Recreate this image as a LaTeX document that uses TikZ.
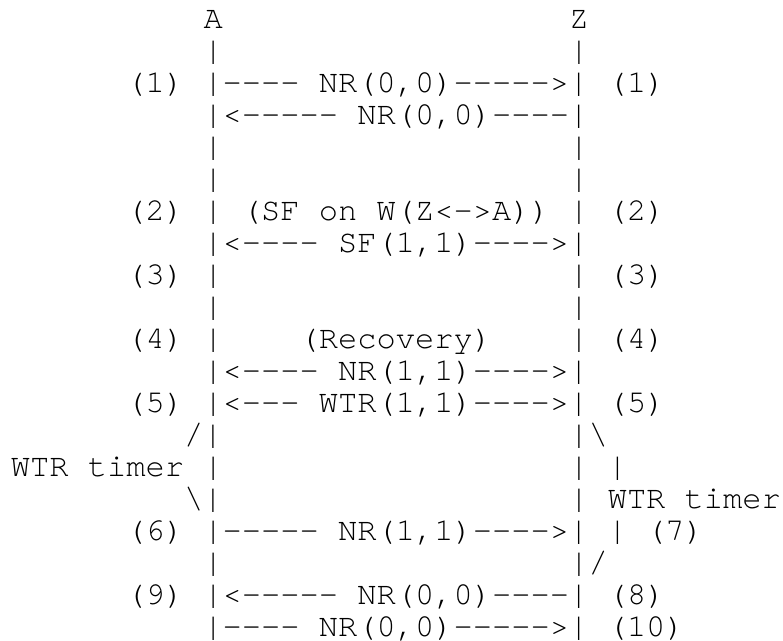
\documentclass[tikz,border=0pt]{standalone}
\usepackage{fontspec}
\setmonofont{TeX Gyre Cursor}
\tikzset{
  txt/.style={inner sep=0pt, outer sep=0pt, anchor=base west,
    font=\ttfamily\fontsize{16.04pt}{16pt}\selectfont, text=black}
}
\begin{document}
\begin{tikzpicture}[x=9.625pt,y=-16pt]
\useasboundingbox (-5.5pt,14.25pt) rectangle (386pt,-306.25pt);
% row 1
\node[txt] (A) at (10,0) {A};
\node[txt] (Z) at (29,0) {Z};
% row 2
\node[txt] (a2) at (10,1) {|};
\node[txt] (z2) at (29,1) {|};
% row 3
\node[txt] (l3) at (6,2) {(1)};
\node[txt] (m3) at (10,2) {|---- NR(0,0)----->|};
\node[txt] (r3) at (31,2) {(1)};
% row 4
\node[txt] (m4) at (10,3) {|<----- NR(0,0)----|};
% rows 5,6
\node[txt] (a5) at (10,4) {|};
\node[txt] (z5) at (29,4) {|};
\node[txt] (a6) at (10,5) {|};
\node[txt] (z6) at (29,5) {|};
% row 7
\node[txt] (l7) at (6,6) {(2)};
\node[txt] (a7) at (10,6) {|};
\node[txt] (m7) at (12,6) {(SF on W(Z<->A))};
\node[txt] (z7) at (29,6) {|};
\node[txt] (r7) at (31,6) {(2)};
% row 8
\node[txt] (m8) at (10,7) {|<---- SF(1,1)---->|};
% row 9
\node[txt] (l9) at (6,8) {(3)};
\node[txt] (a9) at (10,8) {|};
\node[txt] (z9) at (29,8) {|};
\node[txt] (r9) at (31,8) {(3)};
% row 10
\node[txt] (a10) at (10,9) {|};
\node[txt] (z10) at (29,9) {|};
% row 11
\node[txt] (l11) at (6,10) {(4)};
\node[txt] (a11) at (10,10) {|};
\node[txt] (m11) at (15,10) {(Recovery)};
\node[txt] (z11) at (29,10) {|};
\node[txt] (r11) at (31,10) {(4)};
% row 12
\node[txt] (m12) at (10,11) {|<---- NR(1,1)---->|};
% row 13
\node[txt] (l13) at (6,12) {(5)};
\node[txt] (m13) at (10,12) {|<--- WTR(1,1)---->|};
\node[txt] (r13) at (31,12) {(5)};
% row 14
\node[txt] (a14) at (9,13) {/|};
\node[txt] (z14) at (29,13) {|\textbackslash};
% row 15
\node[txt] (l15) at (0,14) {WTR timer};
\node[txt] (a15) at (10,14) {|};
\node[txt] (z15) at (29,14) {|};
\node[txt] (t15) at (31,14) {|};
% row 16
\node[txt] (a16) at (9,15) {\textbackslash|};
\node[txt] (z16) at (29,15) {|};
\node[txt] (r16) at (31,15) {WTR timer};
% row 17
\node[txt] (l17) at (6,16) {(6)};
\node[txt] (m17) at (10,16) {|----- NR(1,1)---->|};
\node[txt] (t17) at (31,16) {|};
\node[txt] (r17) at (33,16) {(7)};
% row 18
\node[txt] (a18) at (10,17) {|};
\node[txt] (z18) at (29,17) {|/};
% row 19
\node[txt] (l19) at (6,18) {(9)};
\node[txt] (m19) at (10,18) {|<----- NR(0,0)----|};
\node[txt] (r19) at (31,18) {(8)};
% row 20
\node[txt] (m20) at (10,19) {|---- NR(0,0)----->|};
\node[txt] (r20) at (31,19) {(10)};
\end{tikzpicture}
\end{document}
